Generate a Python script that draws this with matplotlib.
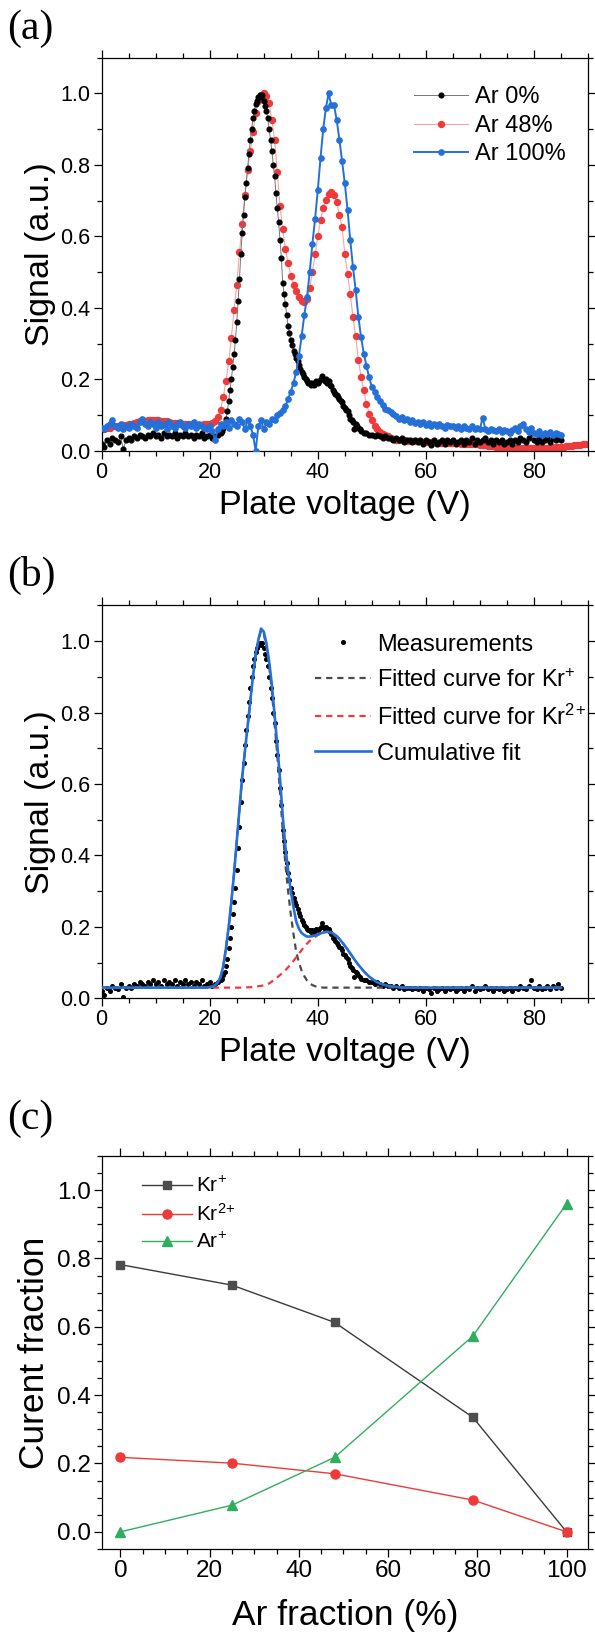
import numpy as np
import matplotlib
matplotlib.use("Agg")
import matplotlib.pyplot as plt
from matplotlib.ticker import MultipleLocator, FormatStrFormatter

plt.rcParams["font.family"] = ["Liberation Sans", "DejaVu Sans"]
plt.rcParams["mathtext.fontset"] = "custom"
plt.rcParams["mathtext.rm"] = "Liberation Sans"
plt.rcParams["mathtext.it"] = "Liberation Sans:italic"
plt.rcParams["mathtext.default"] = "regular"

# ---- panel (a): retarding potential traces ----
# Ar 0 %: 0-21.5 V every 0.5 V, 22-47.75 V every 0.25 V, 48-85 V every 0.5 V
ar0_low = [0.020, 0.010, 0.030, 0.020, 0.035, 0.030, 0.025, 0.040, 0.005, 0.030,
           0.035, 0.030, 0.040, 0.035, 0.045, 0.040, 0.035, 0.045, 0.040, 0.050,
           0.040, 0.045, 0.035, 0.050, 0.040, 0.045, 0.040, 0.050, 0.035, 0.045,
           0.040, 0.050, 0.040, 0.045, 0.035, 0.045, 0.040, 0.050, 0.035, 0.040,
           0.045, 0.035, 0.040, 0.045]
ar0_peak = [0.050, 0.055, 0.065, 0.075,
            0.090, 0.110, 0.140, 0.170,
            0.200, 0.235, 0.270, 0.310,
            0.360, 0.420, 0.480, 0.550,
            0.610, 0.660, 0.710, 0.750,
            0.790, 0.830, 0.870, 0.900,
            0.930, 0.950, 0.970, 0.980,
            0.990, 0.995, 0.990, 0.995,
            0.980, 0.965, 0.950, 0.930,
            0.900, 0.870, 0.840, 0.800,
            0.770, 0.720, 0.680, 0.640,
            0.590, 0.540, 0.470, 0.440,
            0.410, 0.380, 0.350, 0.330,
            0.310, 0.295, 0.280, 0.270,
            0.260, 0.250, 0.240, 0.230,
            0.220, 0.215, 0.205, 0.200,
            0.195, 0.190, 0.190, 0.185,
            0.190, 0.185, 0.190, 0.195,
            0.190, 0.195, 0.200, 0.210,
            0.200, 0.195, 0.200, 0.190,
            0.195, 0.185, 0.180, 0.170,
            0.165, 0.160, 0.155, 0.150,
            0.145, 0.140, 0.135, 0.125,
            0.120, 0.115, 0.110, 0.100,
            0.090, 0.085, 0.080, 0.060,
            0.075, 0.070, 0.065, 0.060]
ar0_tail = [0.055, 0.050, 0.050, 0.045, 0.045, 0.040, 0.045, 0.040, 0.035, 0.040,
            0.035, 0.035, 0.030, 0.035, 0.030, 0.035, 0.025, 0.030, 0.030, 0.025,
            0.030, 0.025, 0.030, 0.020, 0.030, 0.025, 0.015, 0.030, 0.020, 0.025,
            0.030, 0.020, 0.030, 0.025, 0.030, 0.020, 0.025, 0.030, 0.020, 0.030,
            0.025, 0.035, 0.020, 0.030, 0.025, 0.030, 0.035, 0.025, 0.030, 0.020,
            0.030, 0.025, 0.030, 0.020, 0.025, 0.030, 0.020, 0.030, 0.025, 0.035,
            0.030, 0.025, 0.035, 0.050, 0.030, 0.025, 0.035, 0.025, 0.030, 0.035,
            0.025, 0.035, 0.030, 0.040, 0.030]

# Ar 48 %: 0-90 V every 0.5 V
ar48 = [0.060, 0.062, 0.065, 0.065, 0.068, 0.070, 0.070, 0.072, 0.072, 0.073,
        0.075, 0.076, 0.078, 0.080, 0.082, 0.083, 0.084, 0.085, 0.085, 0.086,
        0.085, 0.085, 0.084, 0.083, 0.082, 0.080, 0.079, 0.078, 0.077, 0.076,
        0.075, 0.075, 0.074, 0.074, 0.073, 0.073, 0.073, 0.073, 0.074, 0.075,
        0.076, 0.078, 0.083, 0.095, 0.115, 0.150, 0.195, 0.250, 0.315, 0.395,
        0.465, 0.555, 0.635, 0.715, 0.785, 0.840, 0.893, 0.945, 0.978, 0.995,
        1.000, 0.993, 0.972, 0.925, 0.870, 0.780, 0.685, 0.620, 0.565, 0.525,
        0.490, 0.465, 0.447, 0.430, 0.420, 0.415, 0.425, 0.455, 0.500, 0.550,
        0.600, 0.645, 0.680, 0.702, 0.718, 0.725, 0.715, 0.695, 0.660, 0.625,
        0.550, 0.495, 0.440, 0.375, 0.320, 0.255, 0.207, 0.170, 0.132, 0.104,
        0.086, 0.070, 0.060, 0.053, 0.048, 0.044, 0.040, 0.036, 0.033, 0.031,
        0.030, 0.029, 0.029, 0.028, 0.028, 0.027, 0.027, 0.026, 0.026, 0.025,
        0.025, 0.025, 0.024, 0.024, 0.023, 0.023, 0.023, 0.022, 0.022, 0.022,
        0.021, 0.021, 0.021, 0.020, 0.020, 0.020, 0.019, 0.019, 0.018, 0.018,
        0.017, 0.016, 0.015, 0.014, 0.013, 0.012, 0.011, 0.010, 0.010, 0.009,
        0.009, 0.009, 0.008, 0.008, 0.008, 0.008, 0.008, 0.008, 0.008, 0.008,
        0.008, 0.008, 0.008, 0.008, 0.009, 0.009, 0.009, 0.010, 0.010, 0.010,
        0.011, 0.011, 0.012, 0.013, 0.014, 0.015, 0.016, 0.017, 0.018, 0.019,
        0.020]

# Ar 100 %: 0-85 V every 0.5 V
ar100 = [0.065, 0.060, 0.070, 0.075, 0.085, 0.070, 0.065, 0.075, 0.060, 0.070,
         0.065, 0.075, 0.070, 0.065, 0.080, 0.090, 0.075, 0.070, 0.080, 0.075,
         0.065, 0.080, 0.070, 0.075, 0.060, 0.080, 0.070, 0.065, 0.075, 0.080,
         0.070, 0.065, 0.075, 0.070, 0.080, 0.065, 0.075, 0.070, 0.065, 0.060,
         0.070, 0.055, 0.030, 0.060, 0.075, 0.070, 0.080, 0.065, 0.085, 0.075,
         0.070, 0.090, 0.080, 0.060, 0.085, 0.070, 0.045, 0.000, 0.070, 0.085,
         0.060, 0.080, 0.075, 0.090, 0.085, 0.100, 0.105, 0.115, 0.125, 0.145,
         0.165, 0.190, 0.220, 0.265, 0.320, 0.380, 0.430, 0.500, 0.580, 0.650,
         0.730, 0.820, 0.900, 0.960, 1.000, 0.967, 0.967, 0.925, 0.870, 0.810,
         0.748, 0.675, 0.590, 0.515, 0.450, 0.375, 0.319, 0.272, 0.238, 0.205,
         0.178, 0.165, 0.150, 0.138, 0.128, 0.118, 0.114, 0.108, 0.104, 0.098,
         0.090, 0.095, 0.085, 0.090, 0.080, 0.085, 0.078, 0.080, 0.075, 0.080,
         0.072, 0.078, 0.070, 0.075, 0.068, 0.075, 0.070, 0.065, 0.072, 0.068,
         0.070, 0.065, 0.070, 0.062, 0.068, 0.065, 0.060, 0.068, 0.062, 0.065,
         0.060, 0.093, 0.060, 0.055, 0.062, 0.058, 0.055, 0.060, 0.052, 0.058,
         0.055, 0.050, 0.058, 0.065, 0.055, 0.070, 0.075, 0.060, 0.052, 0.065,
         0.050, 0.048, 0.055, 0.045, 0.050, 0.048, 0.052, 0.045, 0.050, 0.048,
         0.045]

# ---- panel (b): fitted curves ----
fit_v = [0, 10, 18, 19] + list(np.arange(20, 55.01, 0.5)) + [56, 58, 60, 65, 70, 75, 80, 85]
fit_kr1 = [0.030, 0.030, 0.030, 0.030,
           0.031, 0.033, 0.037, 0.045, 0.060, 0.090, 0.140, 0.200, 0.270, 0.350,
           0.440, 0.530, 0.620, 0.690, 0.760, 0.830, 0.900, 0.960, 1.000, 1.030,
           1.020, 0.985, 0.930, 0.860, 0.770, 0.680, 0.580, 0.470, 0.375, 0.300,
           0.235, 0.180, 0.130, 0.100, 0.078, 0.062, 0.050, 0.042, 0.037, 0.034,
           0.032, 0.031, 0.030, 0.030, 0.030, 0.030, 0.030, 0.030, 0.030, 0.030,
           0.030, 0.030, 0.030, 0.030, 0.030, 0.030, 0.030, 0.030, 0.030, 0.030,
           0.030, 0.030, 0.030, 0.030, 0.030, 0.030, 0.030, 0.030, 0.030, 0.030,
           0.030,
           0.030, 0.030, 0.030, 0.030, 0.030, 0.030, 0.030, 0.030]
fit_kr2 = [0.030, 0.030, 0.030, 0.030,
           0.030, 0.030, 0.030, 0.030, 0.030, 0.030, 0.030, 0.030, 0.030, 0.030,
           0.030, 0.030, 0.030, 0.030, 0.031, 0.031, 0.032, 0.033, 0.034, 0.035,
           0.036, 0.038, 0.042, 0.047, 0.053, 0.059, 0.065, 0.072, 0.079, 0.087,
           0.096, 0.105, 0.115, 0.125, 0.135, 0.145, 0.153, 0.161, 0.167, 0.172,
           0.177, 0.181, 0.184, 0.186, 0.186, 0.184, 0.180, 0.174, 0.166, 0.157,
           0.147, 0.137, 0.126, 0.115, 0.104, 0.094, 0.085, 0.076, 0.068, 0.061,
           0.055, 0.050, 0.045, 0.042, 0.039, 0.037, 0.035, 0.034, 0.033, 0.032,
           0.031,
           0.030, 0.030, 0.030, 0.030, 0.030, 0.030, 0.030, 0.030]
fit_cum = [0.030, 0.030, 0.030, 0.030,
           0.031, 0.033, 0.037, 0.045, 0.060, 0.090, 0.140, 0.200, 0.270, 0.350,
           0.440, 0.530, 0.620, 0.690, 0.761, 0.831, 0.902, 0.963, 1.004, 1.035,
           1.026, 0.993, 0.942, 0.877, 0.793, 0.709, 0.615, 0.512, 0.424, 0.357,
           0.301, 0.255, 0.215, 0.195, 0.183, 0.177, 0.173, 0.173, 0.174, 0.176,
           0.179, 0.182, 0.184, 0.186, 0.186, 0.184, 0.180, 0.174, 0.166, 0.157,
           0.147, 0.137, 0.126, 0.115, 0.104, 0.094, 0.085, 0.076, 0.068, 0.061,
           0.055, 0.050, 0.045, 0.042, 0.039, 0.037, 0.035, 0.034, 0.033, 0.032,
           0.031,
           0.030, 0.030, 0.030, 0.030, 0.030, 0.030, 0.030, 0.030]

# ---- panel (c): current fractions ----
ar_frac = [0, 25, 48, 79, 100]
kr1_frac = [0.782, 0.722, 0.613, 0.335, 0.0]
kr2_frac = [0.218, 0.201, 0.170, 0.093, 0.0]
ar1_frac = [0.0, 0.078, 0.218, 0.573, 0.960]

v_ar0 = np.concatenate([0.5 * np.arange(len(ar0_low)),
                        22 + 0.25 * np.arange(len(ar0_peak)),
                        48 + 0.5 * np.arange(len(ar0_tail))])
s_ar0 = np.array(ar0_low + ar0_peak + ar0_tail)
v_ar48 = 0.5 * np.arange(len(ar48))
v_ar100 = 0.5 * np.arange(len(ar100))

RED = "#ee3a3a"
BLUE = "#2470d8"
GREEN = "#2fae5f"
GREY = "#4a4a4a"
KR1 = "Kr$^{+}$"
KR2 = "Kr$^{2}$$^{+}$"

fig = plt.figure(figsize=(5.95, 16.45), dpi=100)
L, W, H = 0.1709, 0.8173, 0.2389
ax_a = fig.add_axes([L, 0.7260, W, H])
ax_b = fig.add_axes([L, 0.3931, W, H])
ax_c = fig.add_axes([L, 0.0584, W, H])


def style_axes(ax, xmaj, xmin, ymaj, ymin, fs):
    ax.xaxis.set_major_locator(MultipleLocator(xmaj))
    ax.xaxis.set_minor_locator(MultipleLocator(xmin))
    ax.yaxis.set_major_locator(MultipleLocator(ymaj))
    ax.yaxis.set_minor_locator(MultipleLocator(ymin))
    ax.yaxis.set_major_formatter(FormatStrFormatter("%.1f"))
    ax.tick_params(which="both", direction="out", top=True, right=True,
                   labeltop=False, labelright=False, width=0.9)
    ax.tick_params(which="major", length=6, labelsize=fs, pad=2)
    ax.tick_params(which="minor", length=3.5)
    for s in ax.spines.values():
        s.set_linewidth(0.9)


# (a)
ax_a.plot(v_ar48, ar48, "-o", color="#f5a5a5", lw=0.8, ms=4.3,
          mfc=RED, mec=RED, label="Ar 48%", zorder=2)
ax_a.plot(v_ar0, s_ar0, "-o", color="#777777", lw=0.7, ms=3.4,
          mfc="k", mec="k", label="Ar 0%", zorder=3)
ax_a.plot(v_ar100, ar100, "-o", color=BLUE, lw=1.4, ms=3.8,
          mfc=BLUE, mec=BLUE, label="Ar 100%", zorder=4)
ax_a.set_xlim(0, 90)
ax_a.set_ylim(0, 1.1)
style_axes(ax_a, 20, 5, 0.2, 0.1, 15.5)
ax_a.set_xlabel("Plate voltage (V)", fontsize=24.5, labelpad=5)
ax_a.set_ylabel("Signal (a.u.)", fontsize=24.5, labelpad=3)
h, lab = ax_a.get_legend_handles_labels()
order = [1, 0, 2]
ax_a.legend([h[i] for i in order], [lab[i] for i in order], loc="upper left",
            bbox_to_anchor=(0.617, 0.957), frameon=False, fontsize=17,
            handlelength=2.3, handletextpad=0.3, labelspacing=0.27,
            borderpad=0, numpoints=1)

# (b)
ax_b.plot(v_ar0, s_ar0, "o", color="k", ms=2.6, label="Measurements", zorder=2)
ax_b.plot(fit_v, fit_kr1, "--", color=GREY, lw=1.6, dashes=(2.8, 2.2),
          label="Fitted curve for " + KR1, zorder=3)
ax_b.plot(fit_v, fit_kr2, "--", color=RED, lw=1.6, dashes=(2.8, 2.2),
          label="Fitted curve for " + KR2, zorder=3)
ax_b.plot(fit_v, fit_cum, "-", color=BLUE, lw=1.9, label="Cumulative fit", zorder=4)
ax_b.set_xlim(0, 90)
ax_b.set_ylim(0, 1.1)
style_axes(ax_b, 20, 5, 0.2, 0.1, 15.5)
ax_b.set_xlabel("Plate voltage (V)", fontsize=24.5, labelpad=5)
ax_b.set_ylabel("Signal (a.u.)", fontsize=24.5, labelpad=3)
ax_b.legend(loc="upper left", bbox_to_anchor=(0.414, 0.958), frameon=False,
            fontsize=17, handlelength=2.4, handletextpad=0.25, labelspacing=0.55,
            borderpad=0, numpoints=1)

# (c)
ax_c.plot(ar_frac, kr1_frac, "-s", color="#3a3a3a", lw=1.0, ms=6,
          mfc="#4d4d4d", mec="#4d4d4d", label=KR1, zorder=2)
ax_c.plot(ar_frac, kr2_frac, "-o", color=RED, lw=1.0, ms=6.5,
          mfc=RED, mec=RED, label=KR2, zorder=3)
ax_c.plot(ar_frac, ar1_frac, "-^", color=GREEN, lw=1.0, ms=6.5,
          mfc=GREEN, mec=GREEN, label="Ar$^{+}$", zorder=4)
ax_c.set_xlim(-4.2, 104.8)
ax_c.set_ylim(-0.05, 1.1)
style_axes(ax_c, 20, 5, 0.2, 0.05, 17.5)
ax_c.set_xlabel("Ar fraction (%)", fontsize=25.5, labelpad=12)
ax_c.set_ylabel("Curent fraction", fontsize=25.5, labelpad=4)
ax_c.legend(loc="upper left", bbox_to_anchor=(0.062, 0.975), frameon=False,
            fontsize=15, handlelength=2.4, handletextpad=0.2, labelspacing=0.33,
            borderpad=0, numpoints=1)

for y, tag in [(9, "(a)"), (556, "(b)"), (1100, "(c)")]:
    fig.text(7 / 595, 1 - y / 1645, tag, family="Liberation Serif",
             fontsize=30, va="top", ha="left")

fig.savefig("out.png", dpi=100)
